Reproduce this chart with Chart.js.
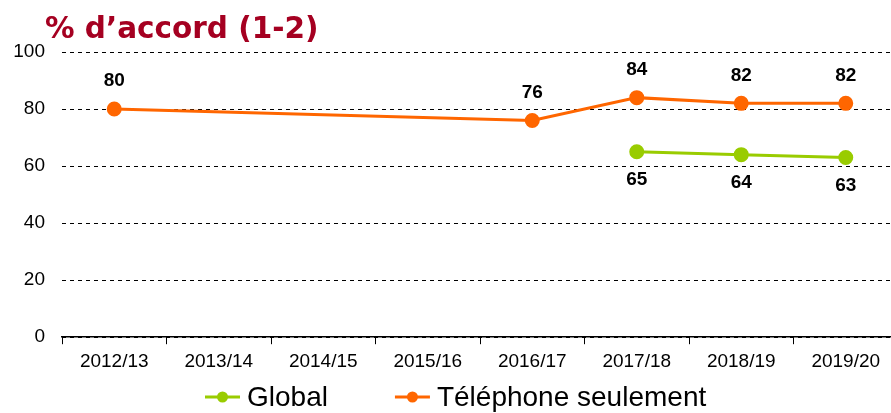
<!DOCTYPE html>
<html>
<head>
<meta charset="utf-8">
<script src="https://cdn.jsdelivr.net/npm/chart.js@4/dist/chart.umd.min.js"></script>
<style>
    html, body { margin: 0; padding: 0; background: #fff; overflow: hidden; }
    #wrap { width: 891px; height: 413px; overflow: hidden; }
    #myChart { width: 910px; height: 413px; }
</style>
</head>
<body>
<div id="wrap">
    <canvas id="myChart" width="910" height="413"></canvas>
</div>
<script>
var title = "% d\u2019accord (1-2)";
var labels = ["2012/13", "2013/14", "2014/15", "2015/16", "2016/17", "2017/18", "2018/19", "2019/20"];
var globalValues = [null, null, null, null, null, 65, 64, 63];
var phoneValues = [80, null, null, null, 76, 84, 82, 82];
var yTicks = [0, 20, 40, 60, 80, 100];

// values printed above / below each point
var pointLabels = {
    id: 'pointLabels',
    afterDatasetsDraw: function (chart) {
        var c = chart.ctx;
        c.save();
        c.font = 'bold 19px "Liberation Sans", Arial, sans-serif';
        c.fillStyle = '#000';
        c.textAlign = 'center';
        c.textBaseline = 'middle';
        chart.data.datasets.forEach(function (ds, i) {
            var meta = chart.getDatasetMeta(i);
            meta.data.forEach(function (pt, j) {
                if (ds.data[j] == null) return;
                var dy = ds.labelPos === 'below' ? 28 : -28;
                c.fillText(ds.data[j], pt.x, pt.y + dy);
            });
        });
        c.restore();
    }
};

// title + legend drawn by hand
var decor = {
    id: 'decor',
    afterDraw: function (chart) {
        var c = chart.ctx;
        c.save();
        c.font = 'bold 29.5px "DejaVu Sans", Verdana, sans-serif';
        c.fillStyle = '#A50021';
        c.textBaseline = 'middle';
        c.textAlign = 'left';
        c.fillText(title, 45, 30);

        c.font = '28px "Liberation Sans", Arial, sans-serif';
        var markW = 35, gapText = 7, gapItem = 67;
        var x = 205;
        var y = 397;
        chart.data.datasets.forEach(function (ds) {
            c.strokeStyle = ds.borderColor;
            c.lineWidth = 3;
            c.beginPath();
            c.moveTo(x, y);
            c.lineTo(x + markW, y);
            c.stroke();
            c.fillStyle = ds.borderColor;
            c.beginPath();
            c.arc(x + markW / 2, y, 5.5, 0, Math.PI * 2);
            c.fill();
            c.fillStyle = '#000';
            c.fillText(ds.label, x + markW + gapText, y + 1);
            x += markW + gapText + c.measureText(ds.label).width + gapItem;
        });
        c.restore();
    }
};

var ctx = document.getElementById('myChart').getContext('2d');
var myChart = new Chart(ctx, {
    type: 'line',
    data: {
        labels: labels,
        datasets: [{
            label: "Global",
            data: globalValues,
            borderColor: "#99CC00",
            backgroundColor: "#99CC00",
            borderWidth: 3,
            pointRadius: 6,
            pointHoverRadius: 6,
            spanGaps: true,
            labelPos: 'below'
        }, {
            label: "T\u00e9l\u00e9phone seulement",
            data: phoneValues,
            borderColor: "#FF6600",
            backgroundColor: "#FF6600",
            borderWidth: 3,
            pointRadius: 6,
            pointHoverRadius: 6,
            spanGaps: true,
            labelPos: 'above'
        }]
    },
    options: {
        responsive: false,
        animation: false,
        layout: { padding: { left: 13, right: 12, top: 52, bottom: 34 } },
        plugins: {
            legend: { display: false },
            title: { display: false },
            tooltip: { enabled: false }
        },
        scales: {
            x: {
                offset: true,
                grid: {
                    offset: true,
                    drawOnChartArea: false,
                    drawTicks: true,
                    tickLength: 7,
                    color: '#000'
                },
                border: { display: true, color: '#000', width: 1.5 },
                ticks: {
                    color: '#000',
                    padding: 6,
                    maxRotation: 0,
                    font: { family: '"Liberation Sans", Arial, sans-serif', size: 19 }
                }
            },
            y: {
                min: 0,
                max: 100,
                afterBuildTicks: function (scale) {
                    scale.ticks = yTicks.map(function (v) { return { value: v }; });
                },
                afterFit: function (scale) {
                    scale.width = 49;
                },
                grid: {
                    color: '#000',
                    lineWidth: 1,
                    drawTicks: false
                },
                border: { display: false, dash: [4, 4] },
                ticks: {
                    color: '#000',
                    padding: 17,
                    font: { family: '"Liberation Sans", Arial, sans-serif', size: 19 }
                }
            }
        }
    },
    plugins: [pointLabels, decor]
});
</script>
</body>
</html>
